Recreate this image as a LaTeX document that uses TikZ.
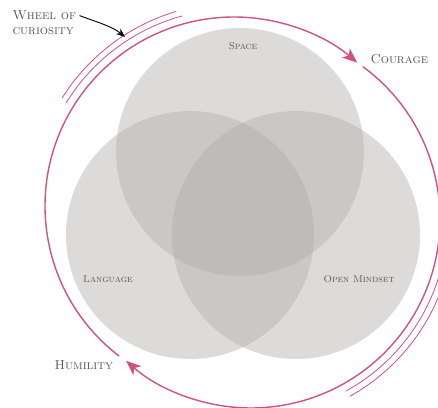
\documentclass[tikz,border=0pt]{standalone}
\usepackage{tikz}
\usetikzlibrary{arrows.meta}

\definecolor{wheelpink}{RGB}{208,82,128}
\definecolor{venngray}{RGB}{175,170,167}
\definecolor{labelgray}{RGB}{85,85,85}

\begin{document}
\begin{tikzpicture}[x=1pt, y=1pt, line cap=round, line join=round,
  wheel/.style={wheelpink, line width=1.4pt},
  wheelthin/.style={wheelpink, line width=0.8pt},
  wheeltip/.style={-{Stealth[length=15pt, width=12pt, inset=4pt]}},
  venn/.style={fill=venngray, fill opacity=0.42},
  bigtext/.style={text=labelgray, font=\fontsize{13}{15.5}\selectfont\scshape},
  smalltext/.style={text=labelgray, font=\fontsize{10}{12}\selectfont\scshape}]

\useasboundingbox (0,0) rectangle (438,407);
\clip (0,0) rectangle (438,407);

% --- Coordinates ---
\coordinate (S) at (240,255);  % space
\coordinate (L) at (190,172);  % language
\coordinate (M) at (296,172);  % open mindset
\coordinate (W1) at (234,201); % upper wheel arc
\coordinate (W2) at (251,188); % lower wheel arc
\coordinate (tip) at (125,370);

% --- Venn circles ---
\fill[venn] (S) circle[radius=124];
\fill[venn] (L) circle[radius=124];
\fill[venn] (M) circle[radius=124];

% --- Wheel ---
% upper arc, ends at Courage
\draw[wheel, wheeltip] (W1) ++(232.5:189) arc[start angle=232.5, end angle=49.3, radius=189];
% lower arc, ends at Humility
\draw[wheel, wheeltip] (W2) ++(53.6:189) arc[start angle=53.6, end angle=-131.4, radius=189];

% thin companion arcs
\draw[wheelthin] (W1) ++(148.5:197) arc[start angle=148.5, end angle=105.3, radius=197];
\draw[wheelthin] (W1) ++(147.8:203) arc[start angle=147.8, end angle=106.6, radius=203];
\draw[wheelthin] (W2) ++(-61.1:196.5) arc[start angle=-61.1, end angle=0, radius=196.5];
\draw[wheelthin] (W2) ++(-60.8:203) arc[start angle=-60.8, end angle=0, radius=203];

% --- Labels ---
\node[bigtext, anchor=base west] (wheel) at (9,387) {Wheel of};
\node[bigtext, anchor=base west] (curiosity) at (9,372) {curiosity};
\node[bigtext, anchor=base west] (courage) at (367,343) {Courage};
\node[bigtext, anchor=base west] (humility) at (51,38) {Humility};

\node[smalltext, anchor=base] (space) at (243,357) {Space};
\node[smalltext, anchor=base] (language) at (108,125) {Language};
\node[smalltext, anchor=base] (mindset) at (359,125) {Open Mindset};

% pointer to the wheel
\draw[-{Stealth[length=9pt, width=7pt]}, line width=0.9pt] (wheel.east) .. controls (100,384) and (113,380) .. (tip);

\end{tikzpicture}
\end{document}
